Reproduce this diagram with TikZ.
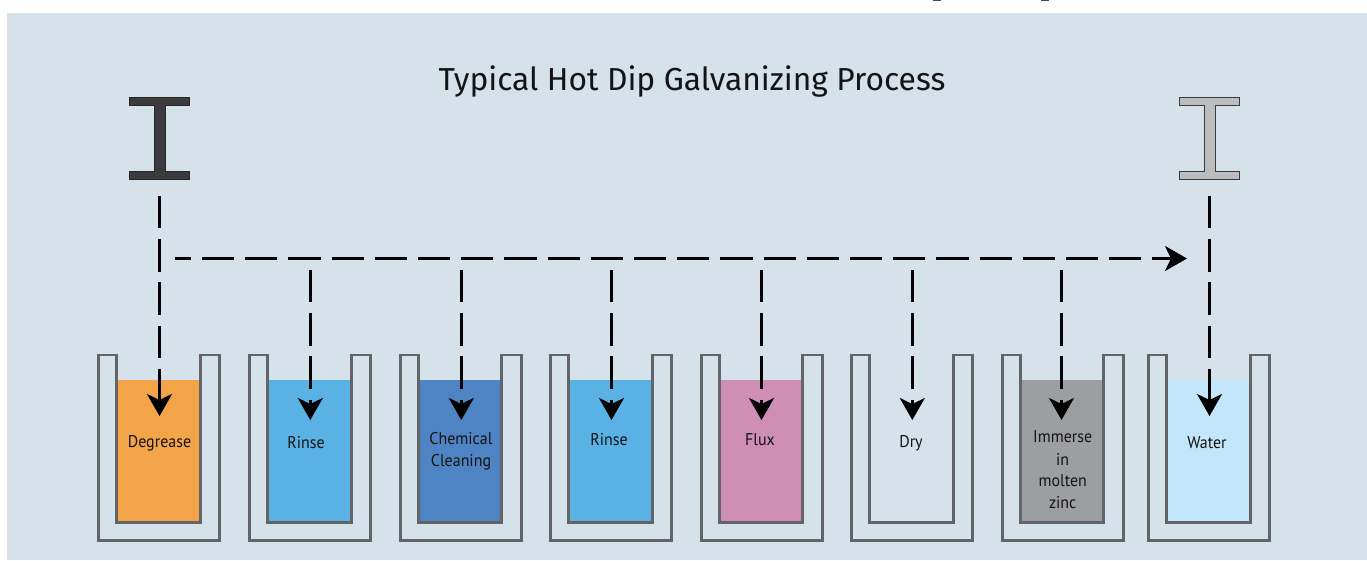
\documentclass[tikz,border=0pt]{standalone}
\usepackage{fontspec}
\setmainfont{PT Sans}
\newfontfamily\titlefont{Fira Sans}
\newfontfamily\lblfont[FakeStretch=0.94]{PT Sans}
\usetikzlibrary{arrows.meta}
\definecolor{bgc}{HTML}{D6E2EA}
\definecolor{wallc}{HTML}{636466}
\definecolor{orangec}{HTML}{F3A449}
\definecolor{bluec}{HTML}{5AB1E3}
\definecolor{chemc}{HTML}{4E84C4}
\definecolor{fluxc}{HTML}{CF8FB5}
\definecolor{zincc}{HTML}{9D9EA2}
\definecolor{waterc}{HTML}{C2E6FA}
\definecolor{darkbeam}{HTML}{3B3B3D}
\definecolor{lightbeam}{HTML}{BCBDBF}
\tikzset{
  x=1pt,y=-1pt,
  wall/.style={draw=wallc,line width=2.9pt,miter limit=10},
  flow/.style={draw=black,line width=2.7pt,dash pattern=on 32.3pt off 10.9pt,
    -{Stealth[length=22pt,width=25pt,inset=6pt]}},
  lbl/.style={font=\lblfont\fontsize{17}{22}\selectfont,text=black!92,align=center,inner sep=0pt},
  beam/.style={line width=1pt,line join=miter}
}
\newcommand{\tankat}[2]{%
  \begin{scope}[shift={(#1,0)}]
    \fill[#2] (18.5,380) rectangle (102,523);
    \draw[wall] (18.5,355) -- (0.5,355) -- (0.5,540.5) -- (121.5,540.5) -- (121.5,355) -- (102,355) -- (102,522.5) -- (18.5,522.5) -- cycle;
  \end{scope}}
\newcommand{\beamat}[3]{%
  \begin{scope}[shift={(#1,0)}]
    \draw[beam,fill=#2,draw=#3] (0,97.5) -- (60.5,97.5) -- (60.5,105.5) -- (36,105.5) -- (36,171) -- (60.5,171) -- (60.5,179) -- (0,179) -- (0,171) -- (25.5,171) -- (25.5,105.5) -- (0,105.5) -- cycle;
  \end{scope}}
\begin{document}
\begin{tikzpicture}
\useasboundingbox (0,0) rectangle (1367,560);
\fill[white] (0,0) rectangle (1367,560);
\fill[bgc] (7,13) rectangle (1367,560);
% clipped descenders at the top edge
\fill[black!70] (933,0) rectangle (941,0.8);
\fill[black!70] (1041,0) rectangle (1049,0.8);

\node[font=\titlefont\fontsize{31.8}{36}\selectfont,text=black!92,inner sep=0pt] (title) at (692,81) {Typical Hot Dip Galvanizing Process};

\beamat{129}{darkbeam}{black!85}
\beamat{1179}{lightbeam}{darkbeam}

\tankat{98.3}{orangec}
\tankat{249.3}{bluec}
\tankat{399.8}{chemc}
\tankat{550.3}{bluec}
\tankat{700.8}{fluxc}
\tankat{851.3}{bgc}
\tankat{1001.8}{zincc}
\tankat{1148.3}{waterc}

\coordinate (s0) at (159.5,196);
\coordinate (e0) at (159.5,416);
\coordinate (s1) at (310.3,270);
\coordinate (e1) at (310.3,420);
\coordinate (s2) at (461.3,270);
\coordinate (e2) at (461.3,420);
\coordinate (s3) at (611.5,270);
\coordinate (e3) at (611.5,420);
\coordinate (s4) at (761.5,270);
\coordinate (e4) at (761.5,420);
\coordinate (s5) at (912.3,270);
\coordinate (e5) at (912.3,420);
\coordinate (s6) at (1061.5,270);
\coordinate (e6) at (1061.5,420);
\coordinate (s7) at (1209.5,196);
\coordinate (e7) at (1209.5,416);
\coordinate (hs) at (174.5,258.5);
\coordinate (he) at (1187,258.5);

\foreach \i in {0,...,7} {\draw[flow] (s\i) -- (e\i);}
\draw[flow,dash phase=15.8pt] (hs) -- (he);

\node[lbl] (degrease) at (159.5,443) {Degrease};
\node[lbl] (rinsea) at (306,443) {Rinse};
\node[lbl] (chema) at (461,439) {Chemical};
\node[lbl] (chemb) at (461,462) {Cleaning};
\node[lbl] (rinseb) at (609,440) {Rinse};
\node[lbl] (flux) at (760,439.5) {Flux};
\node[lbl] (dry) at (911,443) {Dry};
\node[lbl] (imm) at (1062.7,437) {Immerse};
\node[lbl] (immb) at (1062.7,459) {in};
\node[lbl] (immc) at (1062.7,481) {molten};
\node[lbl] (immd) at (1062.7,503) {zinc};
\node[lbl] (water) at (1207,443) {Water};
\end{tikzpicture}
\end{document}
